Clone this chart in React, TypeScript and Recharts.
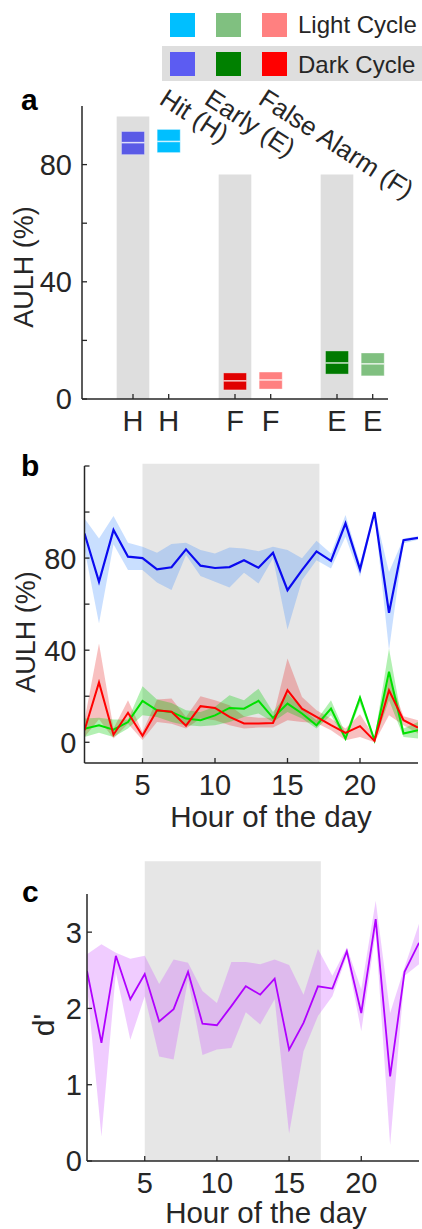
import React from 'react';
import {
  ComposedChart,
  Line,
  Area,
  XAxis,
  YAxis,
  ReferenceArea,
  Scatter,
} from 'recharts';

const FONT = '"Liberation Sans", Arial, Helvetica, sans-serif';
const AX = '#262626';

// ---------- Panel a data ----------
const outcomeLabels = ['H', 'H', 'F', 'F', 'E', 'E'];
const outcomePos = [0, 0.35, 1, 1.35, 2, 2.35];
const boxLow = [83.4, 84.1, 3.1, 3.4, 8.5, 7.9];
const boxHigh = [91.3, 92.0, 8.9, 9.2, 16.4, 15.7];
const boxMedian = [87.5, 87.9, 6.2, 6.5, 12.3, 12.0];
const boxColors = ['#5a5ae6', '#00bfff', '#e00000', '#ff8080', '#007a00', '#80c080'];
const shadePos = [0, 1, 2];
const shadeTop = [96.4, 76.6, 76.6];
const aYTicks = [0, 20, 40, 60, 80];
const aYLabels = [0, 40, 80];

// ---------- Panel b data ----------
const hours = [1, 2, 3, 4, 5, 6, 7, 8, 9, 10, 11, 12, 13, 14, 15, 16, 17, 18, 19, 20, 21, 22, 23, 24];
const hitMean = [90.7, 69.7, 92.2, 80.6, 80.0, 75.1, 76.0, 83.8, 76.7, 75.7, 76.1, 79.1, 75.8, 82.3, 66.1, 74.8, 82.9, 78.8, 95.1, 75.1, 100, 56.2, 87.8, 88.8];
const hitHigh = [97.2, 88.5, 98.3, 86.7, 84.9, 82.3, 86.1, 86.7, 83.5, 82.0, 84.6, 84.2, 83.0, 84.9, 83.5, 79.9, 87.5, 82.0, 98.7, 77.7, 100.5, 74.0, 88.5, 89.5];
const hitLow = [84.0, 51.6, 86.0, 74.8, 74.8, 69.4, 66.1, 81.3, 72.2, 69.7, 67.2, 73.6, 69.0, 79.9, 49.0, 70.4, 79.1, 75.5, 89.3, 71.9, 99.3, 40.0, 86.5, 88.0];
const faMean = [5.2, 26.0, 3.3, 12.8, 2.8, 13.9, 13.3, 7.2, 15.7, 14.9, 11.0, 8.2, 8.2, 8.4, 22.6, 14.6, 11.0, 7.4, 4.1, 7.0, 0.6, 22.6, 9.6, 6.4];
const faHigh = [9.6, 42.9, 6.0, 18.3, 4.5, 18.6, 19.0, 11.0, 20.0, 18.3, 16.1, 11.3, 10.7, 10.7, 36.4, 19.7, 13.9, 10.3, 6.0, 12.2, 2.3, 28.4, 11.3, 9.6];
const faLow = [2.3, 10.0, 1.6, 8.1, 1.0, 8.8, 8.1, 6.0, 10.3, 9.6, 7.4, 6.0, 6.4, 6.4, 9.6, 8.8, 8.4, 5.2, 0.9, 2.3, 0, 11.7, 7.4, 3.8];
const earlyMean = [5.9, 7.4, 5.5, 8.8, 18.0, 13.9, 13.2, 10.3, 9.6, 11.7, 14.9, 14.6, 18.0, 10.6, 16.8, 12.5, 7.4, 14.6, 1.6, 19.4, 0.9, 30.6, 3.8, 5.2];
const earlyHigh = [10.3, 10.7, 9.9, 9.9, 24.3, 18.6, 17.1, 13.9, 13.2, 15.4, 20.4, 18.3, 23.3, 13.2, 21.2, 14.6, 9.6, 18.3, 3.8, 20.4, 1.6, 40.7, 6.0, 8.8];
const earlyLow = [2.3, 4.1, 2.3, 6.0, 11.7, 11.0, 8.8, 7.4, 7.0, 7.4, 8.8, 11.0, 12.5, 8.8, 13.2, 10.3, 6.0, 11.7, 0.9, 16.8, 0, 18.3, 2.3, 1.6];
const bYTicks = [0, 20, 40, 60, 80, 100, 120];
const bYLabels = [0, 40, 80];
const hourTicks = [5, 10, 15, 20];
const darkStart = 5;
const darkEnd = 17.2;

// ---------- Panel c data ----------
const dMean = [2.49, 1.55, 2.69, 2.12, 2.45, 1.83, 1.99, 2.48, 1.80, 1.78, 2.03, 2.29, 2.18, 2.39, 1.46, 1.81, 2.29, 2.26, 2.75, 1.94, 3.17, 1.11, 2.48, 2.86];
const dHigh = [2.71, 2.84, 2.73, 2.65, 2.69, 2.32, 2.64, 2.60, 2.23, 2.07, 2.61, 2.61, 2.58, 2.64, 2.57, 2.18, 2.78, 2.43, 2.80, 2.25, 3.41, 1.94, 2.54, 3.11];
const dLow = [2.30, 0.32, 2.47, 1.59, 2.16, 1.37, 1.33, 2.38, 1.39, 1.46, 1.48, 1.95, 1.79, 2.12, 0.36, 1.44, 1.90, 2.16, 2.69, 1.70, 3.00, 0.21, 2.43, 2.58];
const cYTicks = [0, 1, 2, 3];

// ---------- tables ----------
const boxData = outcomePos.map((p, i) => ({
  pos: p,
  median: boxMedian[i],
  low: boxLow[i],
  high: boxHigh[i],
  color: boxColors[i],
}));

const hourData = hours.map((h, i) => ({
  hour: h,
  hit: hitMean[i],
  hitBand: [hitLow[i], hitHigh[i]],
  fa: faMean[i],
  faBand: [faLow[i], faHigh[i]],
  early: earlyMean[i],
  earlyBand: [earlyLow[i], earlyHigh[i]],
  d: dMean[i],
  dBand: [dLow[i], dHigh[i]],
}));

// ---------- ticks ----------
const TICK_FS = 29;

const makeYTick = (labels: number[], gap: number, fs: number) => (props: any) => {
  const { x, y, payload } = props;
  const show = labels.includes(payload.value);
  return (
    <g>
      <line x1={x} x2={x + 5} y1={y} y2={y} stroke={AX} strokeWidth={1.3} />
      {show && (
        <text x={x - gap} y={y} dy="0.36em" textAnchor="end" fontSize={fs} fill={AX} fontFamily={FONT}>
          {payload.value}
        </text>
      )}
    </g>
  );
};

const makeXTick = (labelFor: (v: number, i: number) => string, fs: number) => (props: any) => {
  const { x, y, payload, index } = props;
  return (
    <g>
      <line x1={x} x2={x} y1={y} y2={y - 5} stroke={AX} strokeWidth={1.3} />
      <text x={x} y={y + 32} textAnchor="middle" fontSize={fs} fill={AX} fontFamily={FONT}>
        {labelFor(payload.value, index)}
      </text>
    </g>
  );
};

const MedianShape = (props: any) => {
  const { cx, cy } = props;
  return <line x1={cx - 11.5} x2={cx + 11.5} y1={cy} y2={cy} stroke="#ffffff" strokeOpacity={0.8} strokeWidth={1.5} />;
};

const axisLineStyle = { stroke: AX, strokeWidth: 1.5 };
const YW = 60;
const XH = 30;

function PanelA() {
  return (
    <ComposedChart width={422} height={440} data={boxData} margin={{ top: 106, right: 34, bottom: 41 - XH, left: 82 - YW }}>
      <XAxis
        dataKey="pos"
        type="number"
        domain={[-0.5, 2.5]}
        allowDataOverflow
        ticks={outcomePos}
        interval={0}
        height={XH}
        tickSize={0}
        tickMargin={0}
        axisLine={axisLineStyle}
        tickLine={false}
        tick={makeXTick((v, i) => outcomeLabels[i], TICK_FS)}
      />
      <YAxis
        type="number"
        domain={[0, 100]}
        allowDataOverflow
        ticks={aYTicks}
        interval={0}
        width={YW}
        tickSize={0}
        tickMargin={0}
        axisLine={axisLineStyle}
        tickLine={false}
        tick={makeYTick(aYLabels, 10, TICK_FS)}
      />
      {shadePos.map((p, i) => (
        <ReferenceArea
          key={'s' + i}
          x1={p - 0.16}
          x2={p + 0.16}
          y1={0}
          y2={shadeTop[i]}
          fill="#dedede"
          fillOpacity={1}
          stroke="none"
          ifOverflow="visible"
        />
      ))}
      {boxData.map((d, i) => (
        <ReferenceArea
          key={'b' + i}
          x1={d.pos - 0.113}
          x2={d.pos + 0.113}
          y1={d.low}
          y2={d.high}
          fill={d.color}
          fillOpacity={1}
          stroke="#ffffff"
          strokeOpacity={0.35}
          ifOverflow="visible"
        />
      ))}
      <Scatter dataKey="median" isAnimationActive={false} shape={MedianShape} />
    </ComposedChart>
  );
}

function PanelB() {
  return (
    <ComposedChart width={422} height={400} data={hourData} margin={{ top: 26, right: 4, bottom: 77 - XH, left: 84.5 - YW }}>
      <XAxis
        dataKey="hour"
        type="number"
        domain={[1, 24]}
        allowDataOverflow
        ticks={hourTicks}
        interval={0}
        height={XH}
        tickSize={0}
        tickMargin={0}
        axisLine={axisLineStyle}
        tickLine={false}
        tick={makeXTick((v) => String(v), TICK_FS)}
      />
      <YAxis
        type="number"
        domain={[-9, 120]}
        allowDataOverflow
        ticks={bYTicks}
        interval={0}
        width={YW}
        tickSize={0}
        tickMargin={0}
        axisLine={axisLineStyle}
        tickLine={false}
        tick={makeYTick(bYLabels, 8, TICK_FS)}
      />
      <ReferenceArea x1={darkStart} x2={darkEnd} y1={-9} y2={121} fill="#e6e6e6" fillOpacity={1} stroke="none" ifOverflow="visible" />
      <Area dataKey="hitBand" stroke="none" fill="#3d8bff" fillOpacity={0.28} isAnimationActive={false} />
      <Area dataKey="faBand" stroke="none" fill="#e83030" fillOpacity={0.3} isAnimationActive={false} />
      <Area dataKey="earlyBand" stroke="none" fill="#00cc00" fillOpacity={0.3} isAnimationActive={false} />
      <Line dataKey="hit" stroke="#0a0af0" strokeWidth={2.2} dot={false} isAnimationActive={false} />
      <Line dataKey="early" stroke="#00e000" strokeWidth={2} dot={false} isAnimationActive={false} />
      <Line dataKey="fa" stroke="#ff0000" strokeWidth={2} dot={false} isAnimationActive={false} />
    </ComposedChart>
  );
}

function PanelC() {
  return (
    <ComposedChart width={422} height={389} data={hourData} margin={{ top: 54, right: 3, bottom: 68 - XH, left: 87 - YW }}>
      <XAxis
        dataKey="hour"
        type="number"
        domain={[1, 24]}
        allowDataOverflow
        ticks={hourTicks}
        interval={0}
        height={XH}
        tickSize={0}
        tickMargin={0}
        axisLine={axisLineStyle}
        tickLine={false}
        tick={makeXTick((v) => String(v), TICK_FS)}
      />
      <YAxis
        type="number"
        domain={[0, 3.5]}
        allowDataOverflow
        ticks={cYTicks}
        interval={0}
        width={YW}
        tickSize={0}
        tickMargin={0}
        axisLine={axisLineStyle}
        tickLine={false}
        tick={makeYTick(cYTicks, 5, TICK_FS)}
      />
      <ReferenceArea x1={darkStart} x2={darkEnd} y1={0} y2={3.93} fill="#e6e6e6" fillOpacity={1} stroke="none" ifOverflow="visible" />
      <Area dataKey="dBand" stroke="none" fill="#cc55ff" fillOpacity={0.3} isAnimationActive={false} />
      <Line dataKey="d" stroke="#b000ff" strokeWidth={1.8} dot={false} isAnimationActive={false} />
    </ComposedChart>
  );
}

const legendLight = ['#00bfff', '#80c080', '#ff8080'];
const legendDark = ['#5c5cf2', '#008000', '#ff0000'];
const legendX = [170, 216, 262];
const categoryNames = ['Hit (H)', 'Early (E)', 'False Alarm (F)'];
const categoryNameX = [158, 203, 257];
const CAT_ANGLE = 33;
const CAT_Y = 103;

function Overlay() {
  return (
    <svg width={422} height={1229} style={{ position: 'absolute', left: 0, top: 0, pointerEvents: 'none' }}>
      <g fontFamily={FONT} fill={AX}>
        <rect x={162} y={46} width={260} height={35} fill="#dedede" />
        {legendX.map((x, i) => (
          <rect key={'l' + i} x={x} y={13} width={25} height={24} fill={legendLight[i]} />
        ))}
        {legendX.map((x, i) => (
          <rect key={'d' + i} x={x} y={52} width={25} height={24} fill={legendDark[i]} />
        ))}
        <text x={298} y={33} fontSize={24}>Light Cycle</text>
        <text x={298} y={73} fontSize={24}>Dark Cycle</text>
        {categoryNames.map((t, i) => (
          <text key={'c' + i} x={categoryNameX[i]} y={CAT_Y} fontSize={26} transform={`rotate(${CAT_ANGLE} ${categoryNameX[i]} ${CAT_Y})`}>
            {t}
          </text>
        ))}
        <text x={21} y={110} fontSize={30} fontWeight="bold" fill="#000">a</text>
        <text x={21} y={476} fontSize={30} fontWeight="bold" fill="#000">b</text>
        <text x={22} y={902} fontSize={30} fontWeight="bold" fill="#000">c</text>
        <text x={23} y={267} fontSize={27} textAnchor="middle" dy="0.36em" transform="rotate(-90 23 267)">AULH (%)</text>
        <text x={25} y={632} fontSize={27} textAnchor="middle" dy="0.36em" transform="rotate(-90 25 632)">AULH (%)</text>
        <text x={43} y={1025} fontSize={30} textAnchor="middle" dy="0.36em" transform="rotate(-90 43 1025)">d'</text>
        <text x={271} y={827} fontSize={29.5} textAnchor="middle">Hour of the day</text>
        <text x={266} y={1223} fontSize={29.5} textAnchor="middle">Hour of the day</text>
      </g>
    </svg>
  );
}

export default function App() {
  return (
    <div style={{ position: 'absolute', left: 0, top: 0, width: 422, height: 1229, background: '#fff', overflow: 'hidden' }}>
      <div style={{ position: 'absolute', left: 0, top: 0 }}>
        <PanelA />
      </div>
      <div style={{ position: 'absolute', left: 0, top: 440 }}>
        <PanelB />
      </div>
      <div style={{ position: 'absolute', left: 0, top: 840 }}>
        <PanelC />
      </div>
      <Overlay />
    </div>
  );
}
